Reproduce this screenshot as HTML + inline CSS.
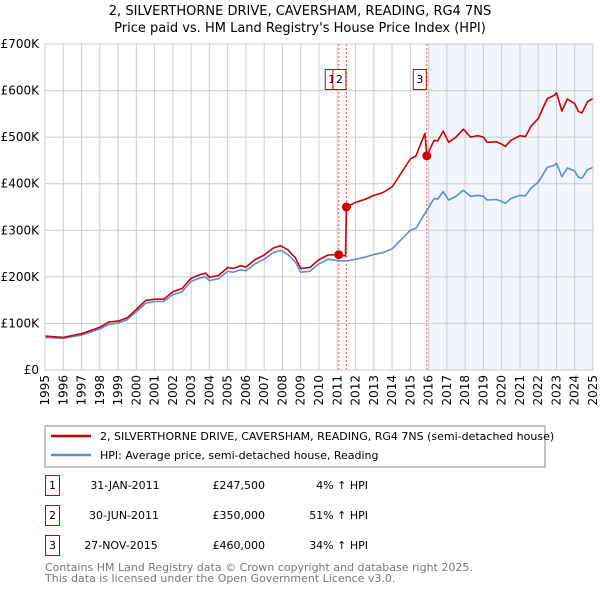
<!DOCTYPE html>
<html><head><meta charset="utf-8"><style>
body{margin:0;width:600px;height:590px;background:#fff;font-family:"Liberation Sans","DejaVu Sans",sans-serif;overflow:hidden}
svg{display:block}
</style></head><body>
<svg id="c" width="600" height="590" font-family="DejaVu Sans, Liberation Sans, sans-serif">
<text x="300" y="15" text-anchor="middle" font-size="13">2, SILVERTHORNE DRIVE, CAVERSHAM, READING, RG4 7NS</text>
<text x="300" y="32" text-anchor="middle" font-size="13">Price paid vs. HM Land Registry's House Price Index (HPI)</text>
<g id="plot"></g>
<rect x="45" y="426" width="500" height="41" fill="#fff" stroke="#888"/>
<line x1="51" y1="436" x2="91" y2="436" stroke="#cc0000" stroke-width="2.5"/>
<text x="100" y="440" font-size="11">2, SILVERTHORNE DRIVE, CAVERSHAM, READING, RG4 7NS (semi-detached house)</text>
<line x1="51" y1="455" x2="91" y2="455" stroke="#5b8fd4" stroke-width="2.5"/>
<text x="100" y="459" font-size="11">HPI: Average price, semi-detached house, Reading</text>
<g font-size="11">
<rect x="45.5" y="475.5" width="14" height="20" fill="none" stroke="#cc0000"/><text x="52.5" y="489" text-anchor="middle">1</text>
<text x="125" y="489" text-anchor="middle">31-JAN-2011</text><text x="265" y="489" text-anchor="end">£247,500</text><text x="368" y="489" text-anchor="end">4% ↑ HPI</text>
<rect x="45.5" y="505.5" width="14" height="20" fill="none" stroke="#cc0000"/><text x="52.5" y="519" text-anchor="middle">2</text>
<text x="124" y="519" text-anchor="middle">30-JUN-2011</text><text x="265" y="519" text-anchor="end">£350,000</text><text x="368" y="519" text-anchor="end">51% ↑ HPI</text>
<rect x="45.5" y="535.5" width="14" height="20" fill="none" stroke="#cc0000"/><text x="52.5" y="549" text-anchor="middle">3</text>
<text x="121" y="549" text-anchor="middle">27-NOV-2015</text><text x="265" y="549" text-anchor="end">£460,000</text><text x="368" y="549" text-anchor="end">34% ↑ HPI</text>
</g>
<text x="45" y="571" font-size="11" fill="#777">Contains HM Land Registry data © Crown copyright and database right 2025.</text>
<text x="45" y="582" font-size="11" fill="#777">This data is licensed under the Open Government Licence v3.0.</text>
</svg>
<script>
const years=[1995,1996,1997,1998,1999,2000,2001,2002,2003,2004,2005,2006,2007,2008,2009,2010,2011,2012,2013,2014,2015,2016,2017,2018,2019,2020,2021,2022,2023,2024,2025];
const yTicks=[0,100000,200000,300000,400000,500000,600000,700000];
const yTickLabels=["£0","£100K","£200K","£300K","£400K","£500K","£600K","£700K"];
const hpiDates=[1995,1996,1997,1998,1998.5,1999,1999.5,2000,2000.5,2001,2001.5,2002,2002.5,2003,2003.5,2003.8,2004,2004.5,2005,2005.3,2005.7,2006,2006.5,2007,2007.5,2007.9,2008.3,2008.7,2009,2009.5,2010,2010.5,2011,2011.5,2012,2012.5,2013,2013.5,2014,2014.5,2015,2015.3,2015.9,2016.3,2016.5,2016.8,2017.1,2017.5,2017.9,2018.3,2018.7,2019,2019.2,2019.7,2020,2020.2,2020.5,2021,2021.3,2021.6,2022,2022.5,2022.9,2023,2023.3,2023.6,2024,2024.2,2024.4,2024.7,2025];
const hpiValues=[70,68,75,88,98,101,108,125,143,147,147,162,168,190,198,200,192,196,212,210,215,213,228,238,252,257,248,232,210,212,228,238,235,234,238,242,248,252,260,280,300,304,343,368,367,383,365,373,386,373,375,373,365,366,362,358,368,375,374,390,403,435,440,444,415,434,427,414,412,430,435];
const redDates=[1995,1996,1997,1998,1998.5,1999,1999.5,2000,2000.5,2001,2001.5,2002,2002.5,2003,2003.5,2003.8,2004,2004.5,2005,2005.3,2005.7,2006,2006.5,2007,2007.5,2007.9,2008.3,2008.7,2009,2009.5,2010,2010.5,2011,2011.08,2011.45,2011.5,2012,2012.5,2013,2013.5,2014,2014.5,2015,2015.3,2015.8,2015.9,2016.3,2016.5,2016.8,2017.1,2017.5,2017.9,2018.3,2018.7,2019,2019.2,2019.7,2020,2020.2,2020.5,2021,2021.3,2021.6,2022,2022.5,2022.9,2023,2023.3,2023.6,2024,2024.2,2024.4,2024.7,2025];
const redValues=[73,70,78,92,103,105,112,130,149,152,152,168,175,197,205,208,199,203,220,218,224,221,237,247,262,267,258,241,218,220,237,247,247.5,247.5,245,350,360,366,375,381,393,423,453,459,508,460,493,492,513,489,500,517,500,503,500,489,490,485,480,493,503,501,523,540,583,590,595,556,582,572,555,552,576,583];
const saleDates=[2011.08,2011.5,2015.9];
const salePrices=[247500,350000,460000];
const saleLabels=["1","2","3"];
const shadeStart=2016.0;

const X0=45,X1=593,Y0=370,Y1=44;
const xs=t=>X0+(t-1995)/(2025-1995)*(X1-X0);
const ys=v=>Y0-v/700000*(Y0-Y1);
const NS="http://www.w3.org/2000/svg";
const g=document.getElementById('plot');
function mk(tag,attrs,parent){const e=document.createElementNS(NS,tag);for(const k in attrs)e.setAttribute(k,attrs[k]);(parent||g).appendChild(e);return e;}

let sh=mk('rect',{x:xs(shadeStart),y:Y1,width:X1-xs(shadeStart),height:Y0-Y1,fill:'#eef3fc',opacity:0.8});


years.forEach(yr=>{
  const l=mk('line',{x1:xs(yr),x2:xs(yr),y1:Y1,y2:Y0,stroke:'#ccc','stroke-width':1});
  
  
  const t=mk('text',{transform:`translate(${xs(yr)+4},${Y0+5}) rotate(-90)`,'text-anchor':'end','font-size':12});
  t.textContent=yr;
  
  
});
yTicks.forEach((v,i)=>{
  const l=mk('line',{x1:X0,x2:X1,y1:ys(v),y2:ys(v),stroke:'#ccc','stroke-width':1});
  
  
  const t=mk('text',{x:X0-6,y:ys(v)+4,'text-anchor':'end','font-size':12});
  t.textContent=yTickLabels[i];
  
  
});
saleDates.forEach((d,i)=>{
  const l=mk('line',{x1:xs(d),x2:xs(d),y1:Y1,y2:Y0,stroke:'#e06060','stroke-width':1,'stroke-dasharray':'2,2'});
  
  
});
function path(ds,vs,color,name){
  const d=ds.map((t,i)=>(i?'L':'M')+xs(t).toFixed(1)+','+ys(vs[i]*1000).toFixed(1)).join('');
  const p=mk('path',{d:d,fill:'none',stroke:color,'stroke-width':1.6,'stroke-linejoin':'round'});
  
  
}
path(hpiDates,hpiValues,'#5b8fd4','hpi-line');
path(redDates,redValues,'#cc0000','property-price-line');
saleDates.forEach((d,i)=>{
  const c=mk('circle',{cx:xs(d),cy:ys(salePrices[i]),r:4.5,fill:'#cc0000'});
  
  
  const r=mk('rect',{x:xs(d)-13.5,y:69.5,width:13,height:20,fill:'#fff',stroke:'#cc0000'});
  
  
  const t=mk('text',{x:xs(d)-7,y:83,'text-anchor':'middle','font-size':11});
  t.textContent=saleLabels[i];
  
  
});
let ax=mk('rect',{x:X0,y:Y1,width:X1-X0,height:Y0-Y1,fill:'none',stroke:'#ccc'});


</script>
</body></html>
